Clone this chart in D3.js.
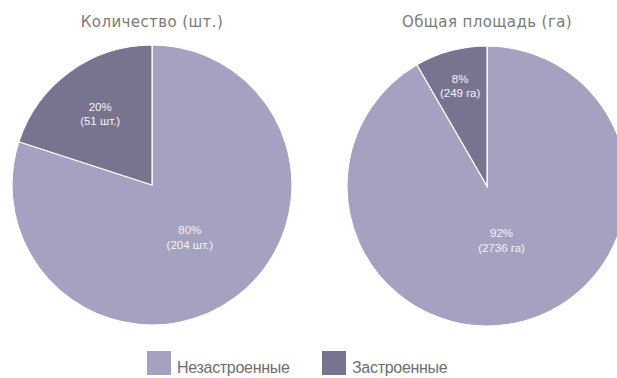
<!DOCTYPE html>
<html>
<head>
<meta charset="utf-8">
<script src="https://cdn.jsdelivr.net/npm/d3@7"></script>
<style>
  html, body { margin: 0; padding: 0; background: #fff; }
  svg { display: block; font-family: "Liberation Sans", Arial, sans-serif; }
</style>
</head>
<body>
<svg id="chart" width="617" height="378"></svg>
<script>
// Categories and values
const categories = ["Незастроенные", "Застроенные"];
const titles = ["Количество (шт.)", "Общая площадь (га)"];
const countValues = [204, 51];
const areaValues = [2736, 249];
const countPercents = ["80%", "20%"];
const areaPercents = ["92%", "8%"];
const countUnits = ["(204 шт.)", "(51 шт.)"];
const areaUnits = ["(2736 га)", "(249 га)"];

const colors = d3.scaleOrdinal().domain(categories).range(["#a5a1c1", "#78738f"]);

const svg = d3.select("#chart");
const R = 140;

// Layout of the two pies; labelR places each slice label as a fraction of the radius
const pies = [
  { title: titles[0], values: countValues, pct: countPercents, units: countUnits, cx: 152, cy: 185, labelR: [0.46, 0.63] },
  { title: titles[1], values: areaValues, pct: areaPercents, units: areaUnits, cx: 487, cy: 186, labelR: [0.40, 0.74] }
];

const pie = d3.pie().sort(null).value(d => d.value);
const arc = d3.arc().innerRadius(0).outerRadius(R);

pies.forEach(p => {
  const g = svg.append("g").attr("transform", `translate(${p.cx},${p.cy})`);
  const data = pie(categories.map((c, i) => ({ cat: c, value: p.values[i], i })));

  g.selectAll("path").data(data).join("path")
    .attr("d", arc)
    .attr("fill", d => colors(d.data.cat))
    .attr("stroke", "#fff")
    .attr("stroke-width", 1.2);

  data.forEach(d => {
    const a = (d.startAngle + d.endAngle) / 2;
    const r = R * p.labelR[d.data.i];
    const x = Math.sin(a) * r, y = -Math.cos(a) * r;
    const t = g.append("text")
      .attr("text-anchor", "middle")
      .attr("fill", "#f4f3f8")
      .attr("font-size", 11.5);
    t.append("tspan").attr("x", x).attr("y", y - 3).text(p.pct[d.data.i]);
    t.append("tspan").attr("x", x).attr("y", y + 11.5).text(p.units[d.data.i]);
  });

  svg.append("text")
    .attr("x", p.cx).attr("y", 26.5)
    .attr("text-anchor", "middle")
    .attr("fill", "#7a7a7a")
    .attr("font-family", "'DejaVu Sans', sans-serif")
    .attr("font-size", 15)
    .attr("letter-spacing", 0.4)
    .text(p.title);
});

// Legend
const legendItems = [{ x: 147, cat: categories[0] }, { x: 322, cat: categories[1] }];
const lg = svg.append("g");
legendItems.forEach(it => {
  lg.append("rect").attr("x", it.x).attr("y", 351).attr("width", 24).attr("height", 24)
    .attr("fill", colors(it.cat));
  lg.append("text").attr("x", it.x + 30).attr("y", 372.5)
    .attr("fill", "#6e6e6e").attr("font-size", 16).attr("letter-spacing", -0.3)
    .text(it.cat);
});
</script>
</body>
</html>
